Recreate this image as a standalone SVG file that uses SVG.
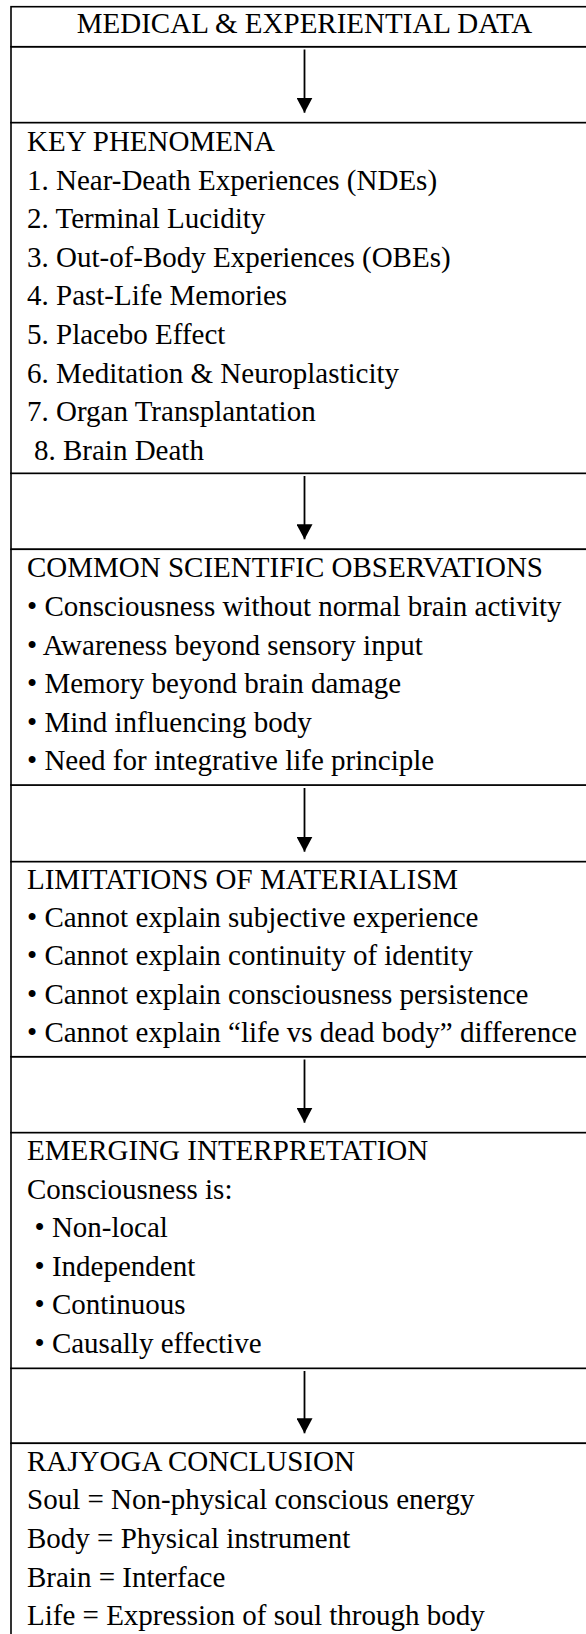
<svg xmlns="http://www.w3.org/2000/svg" width="586" height="1634" viewBox="0 0 586 1634">
<style>
.box{fill:#fff;stroke:#000;stroke-width:1.6}
.t{font-family:"Liberation Serif","Times New Roman",serif;font-size:29px;fill:#000}
.c{text-anchor:middle}
.arr{stroke:#000;stroke-width:1.8;fill:none}
</style>
<defs>
<marker id="ah" viewBox="0 0 15 16" markerUnits="userSpaceOnUse" markerWidth="15" markerHeight="16" refX="15" refY="8" orient="auto">
<path d="M0,0 L15,8 L0,16 Z" fill="#000"/>
</marker>
</defs>
<rect width="586" height="1634" fill="#fff"/>
<g id="cells">
<rect class="box" x="11" y="46.7" width="600" height="76"/>
<rect class="box" x="11" y="473.3" width="600" height="76"/>
<rect class="box" x="11" y="785" width="600" height="76.7"/>
<rect class="box" x="11" y="1056.7" width="600" height="76"/>
<rect class="box" x="11" y="1368.3" width="600" height="75"/>
</g>
<g id="n-medical">
<rect class="box" x="11" y="6.7" width="600" height="40"/>
<text class="t c" x="304.5" y="33.3">MEDICAL &amp; EXPERIENTIAL DATA</text>
</g>
<g id="n-key">
<rect class="box" x="11" y="122.7" width="600" height="350.6"/>
<text class="t" x="27" y="151">KEY PHENOMENA</text>
<text class="t" x="27" y="189.6">1. Near-Death Experiences (NDEs)</text>
<text class="t" x="27" y="228.2">2. Terminal Lucidity</text>
<text class="t" x="27" y="266.8">3. Out-of-Body Experiences (OBEs)</text>
<text class="t" x="27" y="305.4">4. Past-Life Memories</text>
<text class="t" x="27" y="344">5. Placebo Effect</text>
<text class="t" x="27" y="382.6">6. Meditation &amp; Neuroplasticity</text>
<text class="t" x="27" y="421.2">7. Organ Transplantation</text>
<text class="t" x="34" y="459.8">8. Brain Death</text>
</g>
<g id="n-common">
<rect class="box" x="11" y="549.3" width="600" height="235.7"/>
<text class="t" x="27" y="577.3">COMMON SCIENTIFIC OBSERVATIONS</text>
<text class="t" x="27" y="615.9">• Consciousness without normal brain activity</text>
<text class="t" x="27" y="654.5">• Awareness beyond sensory input</text>
<text class="t" x="27" y="693.1">• Memory beyond brain damage</text>
<text class="t" x="27" y="731.7">• Mind influencing body</text>
<text class="t" x="27" y="770.3">• Need for integrative life principle</text>
</g>
<g id="n-limits">
<rect class="box" x="11" y="861.7" width="600" height="195"/>
<text class="t" x="27" y="888.5">LIMITATIONS OF MATERIALISM</text>
<text class="t" x="27" y="926.9">• Cannot explain subjective experience</text>
<text class="t" x="27" y="965.3">• Cannot explain continuity of identity</text>
<text class="t" x="27" y="1003.7">• Cannot explain consciousness persistence</text>
<text class="t" x="27" y="1042.1">• Cannot explain “life vs dead body” difference</text>
</g>
<g id="n-emerging">
<rect class="box" x="11" y="1132.7" width="600" height="235.6"/>
<text class="t" x="27" y="1160">EMERGING INTERPRETATION</text>
<text class="t" x="27" y="1198.6">Consciousness is:</text>
<text class="t" x="34.5" y="1237.2">• Non-local</text>
<text class="t" x="34.5" y="1275.8">• Independent</text>
<text class="t" x="34.5" y="1314.4">• Continuous</text>
<text class="t" x="34.5" y="1353">• Causally effective</text>
</g>
<g id="n-rajyoga">
<rect class="box" x="11" y="1443.3" width="600" height="220"/>
<text class="t" x="27" y="1470.7">RAJYOGA CONCLUSION</text>
<text class="t" x="27" y="1509.3">Soul = Non-physical conscious energy</text>
<text class="t" x="27" y="1547.9">Body = Physical instrument</text>
<text class="t" x="27" y="1586.5">Brain = Interface</text>
<text class="t" x="27" y="1625.1">Life = Expression of soul through body</text>
</g>
<g id="connectors">
<line class="arr" x1="304.5" y1="49.5" x2="304.5" y2="112.7" marker-end="url(#ah)"/>
<line class="arr" x1="304.5" y1="476" x2="304.5" y2="539.3" marker-end="url(#ah)"/>
<line class="arr" x1="304.5" y1="788" x2="304.5" y2="851.7" marker-end="url(#ah)"/>
<line class="arr" x1="304.5" y1="1059.5" x2="304.5" y2="1122.7" marker-end="url(#ah)"/>
<line class="arr" x1="304.5" y1="1371" x2="304.5" y2="1433.3" marker-end="url(#ah)"/>
</g>
</svg>
